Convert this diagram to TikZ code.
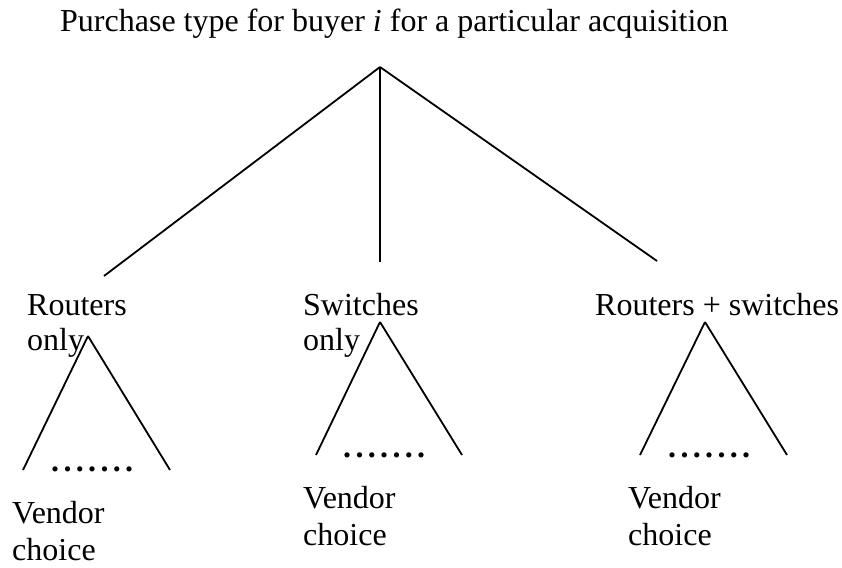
\documentclass[tikz,border=0pt]{standalone}
\usepackage{fontspec}
\setmainfont{Liberation Serif}
\tikzstyle{txt} = [inner sep=0pt, anchor=base west, align=left, font=\fontsize{32}{35}\selectfont]
\tikzstyle{vendor} = [txt, font=\fontsize{32}{37}\selectfont]
\tikzstyle{dotrow} = [inner sep=0pt, anchor=base west, font=\fontsize{32}{35}\selectfont\bfseries]
\tikzstyle{edge} = [line width=1.8pt]
\newcommand{\sevendots}{\makebox[82pt][s]{.\hfill.\hfill.\hfill.\hfill.\hfill.\hfill.}}

\begin{document}
\begin{tikzpicture}[x=1pt, y=-1pt]
\useasboundingbox (0,0) rectangle (842,567);

%% NODES

\node (title) [txt] at (60,32) {Purchase type for buyer \textit{i} for a particular acquisition};
\coordinate (top) at (380,67);

\node (routers) [txt] at (27,350) {Routers\\only};
\node (switches) [txt] at (303,350) {Switches\\only};
\node (both) [txt] at (595,315) {Routers + switches};

\coordinate (routers_end) at (104,276);
\coordinate (switches_end) at (380,262);
\coordinate (both_end) at (657,261);

% vendor choice trees
\coordinate (r_top) at (88,336);
\coordinate (r_left) at (23,470);
\coordinate (r_right) at (170,470);
\coordinate (s_top) at (380,322);
\coordinate (s_left) at (316,455);
\coordinate (s_right) at (462,455);
\coordinate (b_top) at (705,322);
\coordinate (b_left) at (640,455);
\coordinate (b_right) at (787,455);

\node (r_dots) [dotrow] at (51,471) {\sevendots};
\node (s_dots) [dotrow] at (343,457) {\sevendots};
\node (b_dots) [dotrow] at (668,457) {\sevendots};

\node (r_vendor) [vendor] at (12,560) {Vendor\\choice};
\node (s_vendor) [vendor] at (303,545) {Vendor\\choice};
\node (b_vendor) [vendor] at (628,545) {Vendor\\choice};

%% ARROWS

\draw [edge] (top) -- (routers_end);
\draw [edge] (top) -- (switches_end);
\draw [edge] (top) -- (both_end);

\draw [edge] (r_top) -- (r_left);
\draw [edge] (r_top) -- (r_right);
\draw [edge] (s_top) -- (s_left);
\draw [edge] (s_top) -- (s_right);
\draw [edge] (b_top) -- (b_left);
\draw [edge] (b_top) -- (b_right);

\end{tikzpicture}
\end{document}
